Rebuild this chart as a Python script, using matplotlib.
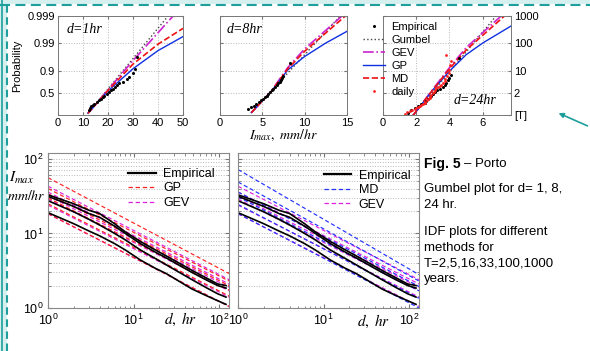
import numpy as np
import matplotlib.pyplot as plt
from matplotlib.lines import Line2D
from matplotlib.patches import Rectangle, FancyArrowPatch

plt.rcParams['font.family'] = ['Liberation Sans', 'DejaVu Sans']
plt.rcParams['mathtext.fontset'] = 'stix'

# ---------------- Gumbel plots (x = Imax mm/hr, y = Gumbel reduced variate) ----------------
# d = 1 hr
emp1_x = [12.3, 12.8, 13.2, 13.8, 14.5, 15.5, 16.2, 17.0, 17.8, 18.5, 19.5, 20.5,
          21.2, 22.0, 22.8, 23.5, 24.5, 25.8, 27.5, 28.5, 30.0, 30.8, 31.5]
emp1_y = [-1.1, -0.95, -0.8, -0.7, -0.6, -0.45, -0.3, -0.15, 0.0, 0.1, 0.25, 0.4,
          0.55, 0.7, 0.85, 1.0, 1.15, 1.3, 1.5, 1.7, 2.0, 2.4, 3.4]
gum1_x, gum1_y = [12, 44], [-1.4, 6.9]
gev1_x, gev1_y = [12, 20, 30, 46], [-1.4, 0.6, 3.1, 6.9]
gp1_x, gp1_y = [12, 20, 30, 40, 50], [-1.4, 0.5, 2.4, 3.95, 5.15]
md1_x, md1_y = [12, 20, 30, 40, 50], [-1.4, 0.55, 2.8, 4.5, 5.85]

# d = 8 hr
emp8_x = [3.3, 3.7, 4.0, 4.3, 4.6, 4.9, 5.1, 5.3, 5.5, 5.7, 5.9, 6.1, 6.3, 6.5,
          6.7, 6.9, 7.1, 7.2, 7.3, 7.4, 8.3]
emp8_y = [-1.0, -0.9, -0.75, -0.6, -0.45, -0.3, -0.15, 0.0, 0.1, 0.25, 0.4, 0.55,
          0.7, 0.85, 1.0, 1.15, 1.3, 1.45, 1.6, 1.8, 2.9]
gum8_x, gum8_y = [3.7, 14.2], [-1.35, 6.9]
gev8_x, gev8_y = [3.7, 6, 8, 10, 14.4], [-1.35, 0.45, 2.5, 4.1, 6.9]
gp8_x, gp8_y = [3.7, 6, 8, 10, 12.5, 15], [-1.35, 0.4, 2.3, 3.45, 4.6, 5.6]
md8_x, md8_y = [3.7, 6, 8, 10, 14.8], [-1.35, 0.4, 2.4, 3.9, 6.9]

# d = 24 hr
emp24_x = [1.5, 1.7, 1.9, 2.1, 2.3, 2.5, 2.6, 2.7, 2.8, 2.9, 3.0, 3.1, 3.25, 3.4,
           3.6, 3.7, 3.8, 3.9, 4.0, 4.1, 4.6]
emp24_y = [-1.35, -1.1, -0.95, -0.8, -0.65, -0.5, -0.35, -0.2, -0.05, 0.1, 0.25, 0.4,
           0.55, 0.7, 0.85, 1.0, 1.2, 1.4, 1.6, 1.9, 3.3]
daily_x = [1.3, 1.45, 1.6, 1.75, 1.9, 2.0, 2.1, 2.2, 2.3, 2.4, 2.5, 2.55, 2.65, 2.7,
           2.8, 2.85, 2.9, 3.0, 3.05, 3.1, 3.2, 3.3, 3.4, 3.5, 3.6, 3.7, 3.75, 3.85,
           3.95, 4.0, 4.05, 3.8, 4.1]
daily_y = [-1.5, -1.3, -1.25, -1.15, -1.05, -0.95, -0.85, -0.8, -0.7, -0.6, -0.5, -0.4,
           -0.3, -0.2, -0.1, 0.0, 0.15, 0.3, 0.45, 0.6, 0.75, 0.85, 0.95, 1.05, 1.2,
           1.35, 1.55, 1.75, 2.0, 2.3, 2.7, 3.55, 3.1]
gum24_x, gum24_y = [1.8, 6.8], [-1.6, 6.9]
gev24_x, gev24_y = [1.8, 3, 4, 5, 7.1], [-1.6, 0.65, 2.5, 4.2, 6.9]
gp24_x, gp24_y = [1.8, 3, 4, 5, 6, 7.7], [-1.6, 0.6, 2.2, 3.6, 4.6, 6.05]
md24_x, md24_y = [1.8, 3, 4, 5, 7.3], [-1.6, 0.6, 2.4, 4.0, 6.9]

prob_ticks = [0.5, 0.9, 0.99, 0.999]
T_ticks = [1000, 100, 10, 2]

# ---------------- IDF curves (T = 2, 5, 16, 33, 100, 1000 years) ----------------
dur_emp = [1, 2, 3, 4, 6, 8, 12, 18, 24, 48, 72, 96, 120]
emp_T33 = [33, 25, 20.5, 18.5, 13.5, 10.5, 7.8, 6.0, 5.0, 3.2, 2.5, 2.1, 2.0]
emp_T16 = [31.5, 23, 18.5, 16.5, 12.5, 10, 7.3, 5.6, 4.7, 3.0, 2.35, 2.0, 1.85]
emp_T5 = [27.5, 19.5, 15.5, 13, 10, 8.2, 6.0, 4.6, 3.8, 2.4, 1.85, 1.55, 1.4]
emp_T2 = [19, 13.5, 10.8, 9.3, 7.3, 6.0, 4.4, 3.4, 2.9, 1.8, 1.45, 1.25, 1.12]

dur_fit = [1, 130]
gp_d1 = [18.5, 25, 30, 34, 40, 56]
gp_d130 = [1.05, 1.45, 1.75, 2.0, 2.3, 2.9]
gev_d1 = [18.3, 24, 29, 32, 36, 43]
gev_d130 = [1.05, 1.4, 1.7, 1.9, 2.1, 2.4]
md_d1 = [18.5, 24.5, 31, 36, 49, 72]
md_d130 = [1.0, 1.35, 1.7, 1.95, 2.3, 2.8]

W, H = 590, 351
fig = plt.figure(figsize=(W / 100, H / 100), dpi=100)


def box(l, t, r, b):
    return [l / W, 1 - b / H, (r - l) / W, (b - t) / H]


def gumbel(p):
    return -np.log(-np.log(np.asarray(p, dtype=float)))


GRID = dict(color='#b8b8b8', linestyle=':', linewidth=0.7)


def gumbel_panel(ax, ex, ey, gx, gy, vx, vy, px, py, mx, my, xlim, xt):
    ax.plot(gx, gy, color='#444444', ls=':', lw=1.0)
    ax.plot(vx, vy, color='#cc22cc', ls='-.', lw=1.2)
    ax.plot(px, py, color='#1030e0', ls='-', lw=1.0)
    ax.plot(mx, my, color='#ee1111', ls='--', lw=1.2)
    ax.plot(ex, ey, 'o', color='black', ms=2.2, mec='none')
    ax.set_xlim(*xlim)
    ax.set_ylim(-1.55, gumbel(0.999))
    ax.set_xticks(xt)
    ax.set_yticks(gumbel(prob_ticks))
    ax.grid(True, **GRID)
    ax.tick_params(direction='in', length=2, labelsize=8, top=True, right=True,
                   color='#777777', pad=2)
    for s in ax.spines.values():
        s.set_color('#777777')
        s.set_linewidth(0.7)


ax1 = fig.add_axes(box(58, 16, 183, 115))
gumbel_panel(ax1, emp1_x, emp1_y, gum1_x, gum1_y, gev1_x, gev1_y, gp1_x, gp1_y,
             md1_x, md1_y, (0, 50), [0, 10, 20, 30, 40, 50])
ax1.set_yticklabels([str(p) for p in prob_ticks])
ax1.set_ylabel('Probability', fontsize=8, labelpad=4)
ax1.text(0.07, 0.86, 'd=1hr', transform=ax1.transAxes, fontsize=10,
         family='Liberation Serif', style='italic', va='center')

ax2 = fig.add_axes(box(220, 16, 347, 115))
gumbel_panel(ax2, emp8_x, emp8_y, gum8_x, gum8_y, gev8_x, gev8_y, gp8_x, gp8_y,
             md8_x, md8_y, (0, 15), [0, 5, 10, 15])
ax2.set_yticklabels([])
ax2.set_xlabel(r'$I_{max},\ mm/hr$', fontsize=10, labelpad=0)
ax2.text(0.05, 0.86, 'd=8hr', transform=ax2.transAxes, fontsize=10,
         family='Liberation Serif', style='italic', va='center')

ax3 = fig.add_axes(box(383, 16, 511, 115))
gumbel_panel(ax3, emp24_x, emp24_y, gum24_x, gum24_y, gev24_x, gev24_y, gp24_x, gp24_y,
             md24_x, md24_y, (0, 7.7), [0, 2, 4, 6])
ax3.plot(daily_x, daily_y, 'o', color='#ff2020', ms=2.0, mec='none')
ax3.set_yticks(list(gumbel([1 - 1 / T for T in T_ticks])) + [-1.55])
ax3.set_yticklabels([str(T) for T in T_ticks] + ['[T]'])
ax3.tick_params(labelleft=False, labelright=True)
ax3.text(0.55, 0.15, 'd=24hr', transform=ax3.transAxes, fontsize=10,
         family='Liberation Serif', style='italic', va='center')
handles = [
    Line2D([], [], ls='none', marker='o', color='black', ms=2.2, mec='none'),
    Line2D([], [], color='#444444', ls=':', lw=1.0),
    Line2D([], [], color='#cc22cc', ls='-.', lw=1.2),
    Line2D([], [], color='#1030e0', ls='-', lw=1.0),
    Line2D([], [], color='#ee1111', ls='--', lw=1.2),
    Line2D([], [], ls='none', marker='o', color='#ff2020', ms=2.0, mec='none'),
]
ax3.legend(handles, ['Empirical', 'Gumbel', 'GEV', 'GP', 'MD', 'daily'],
           loc='upper left', bbox_to_anchor=(-0.22, 1.02), frameon=False,
           fontsize=8, handlelength=2.0, handletextpad=0.6, labelspacing=0.28,
           borderpad=0.2)

# ---------------- IDF panels ----------------
emp_all = [emp_T2, emp_T5, emp_T16, emp_T33]
DASH = (0, (3.5, 2.2))


def idf_panel(ax, fits):
    for (d1, d130, col) in fits:
        for a, b in zip(d1, d130):
            ax.plot(dur_fit, [a, b], color=col, ls=DASH, lw=0.85)
    for e in emp_all:
        ax.plot(dur_emp, e, color='black', lw=1.2)
    ax.set_xscale('log')
    ax.set_yscale('log')
    ax.set_xlim(1, 130)
    ax.set_ylim(1, 120)
    ax.grid(True, axis='y', which='both', **GRID)
    ax.tick_params(which='both', direction='in', top=True, right=True, labelsize=9,
                   color='#777777')
    ax.tick_params(which='major', length=3)
    ax.tick_params(which='minor', length=1.8)
    for s in ax.spines.values():
        s.set_color('#888888')
        s.set_linewidth(0.8)
    h = [Line2D([], [], color='black', lw=1.6)] + \
        [Line2D([], [], color=c, ls=DASH, lw=0.9) for (_, _, c) in fits]
    return h


ax4 = fig.add_axes(box(48, 153, 229, 308))
h4 = idf_panel(ax4, [(gev_d1, gev_d130, '#dd22dd'), (gp_d1, gp_d130, '#ff2222')])
ax4.legend([h4[0], h4[2], h4[1]], ['Empirical', 'GP', 'GEV'], loc='upper right',
           bbox_to_anchor=(0.97, 0.96), frameon=False, fontsize=9, handlelength=2.2,
           handletextpad=0.6, labelspacing=0.2, borderpad=0.2)
ax4.text(0.64, -0.075, r'$d,\ hr$', transform=ax4.transAxes, fontsize=11,
         va='center')

ax5 = fig.add_axes(box(238, 153, 419, 308))
h5 = idf_panel(ax5, [(gev_d1, gev_d130, '#dd22dd'), (md_d1, md_d130, '#2233ff')])
ax5.tick_params(which='both', labelleft=False)
ax5.legend([h5[0], h5[2], h5[1]], ['Empirical', 'MD', 'GEV'], loc='upper right',
           bbox_to_anchor=(1.0, 0.95), frameon=False, fontsize=9, handlelength=2.2,
           handletextpad=0.6, labelspacing=0.2, borderpad=0.2)
ax5.text(0.66, -0.085, r'$d,\ hr$', transform=ax5.transAxes, fontsize=11,
         va='center')

fig.text(9 / W, 1 - 182 / H, r'$I_{max}$', fontsize=11)
fig.text(7 / W, 1 - 200 / H, r'$mm/hr$', fontsize=10)

# ---------------- caption ----------------
fig.text(424 / W, 1 - 164 / H, 'Fig. 5', fontsize=10, fontweight='bold', va='center')
fig.text(464 / W, 1 - 164 / H, '\u2013 Porto', fontsize=9.5, va='center')
fig.text(424 / W, 1 - 183 / H, 'Gumbel plot for d= 1, 8,\n24 hr.', fontsize=9.5,
         va='top', linespacing=1.4)
fig.text(424 / W, 1 - 226 / H, 'IDF plots for different\nmethods for\n'
         'T=2,5,16,33,100,1000\nyears.', fontsize=9.5, va='top', linespacing=1.4)

# ---------------- poster border ----------------
teal = '#1f9f9c'
fig.patches.append(Rectangle((0, 1 - 4 / H), 1, 4 / H, transform=fig.transFigure,
                             facecolor='#d6efef', edgecolor='none', zorder=-1))
fig.patches.append(Rectangle((0, 0), 7 / W, 1, transform=fig.transFigure,
                             facecolor='#d6efef', edgecolor='none', zorder=-1))
fig.lines.append(Line2D([0, 1], [1 - 4.5 / H, 1 - 4.5 / H], transform=fig.transFigure,
                        color=teal, lw=1.5, dashes=(4.8, 2.6)))
fig.lines.append(Line2D([1.8 / W, 1.8 / W], [0, 1], transform=fig.transFigure,
                        color=teal, lw=1.2))
fig.lines.append(Line2D([6.5 / W, 6.5 / W], [0, 1 - 6 / H], transform=fig.transFigure,
                        color=teal, lw=1.5, dashes=(3.6, 2.2)))
fig.add_artist(FancyArrowPatch(
    (590, H - 127), (556, H - 112), transform=None, arrowstyle='-|>',
    mutation_scale=7, color=teal, lw=1.2))

fig.savefig('out.png', dpi=100)
